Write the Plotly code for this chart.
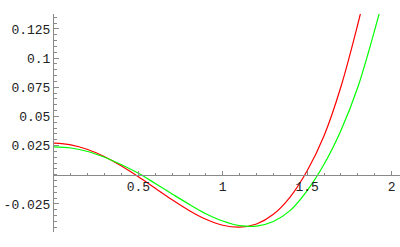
import plotly.graph_objects as go

# Red curve samples
red_x = [0.0, 0.1, 0.2, 0.3, 0.4, 0.5, 0.6, 0.7, 0.8, 0.9, 1.0, 1.1, 1.2, 1.3, 1.4, 1.5, 1.6, 1.7, 1.8, 1.83]
red_y = [0.0271, 0.0257, 0.0217, 0.0155, 0.0076, -0.0016, -0.0115, -0.0214, -0.0305, -0.0381, -0.0432, -0.0448, -0.0421, -0.0338, -0.0188, 0.0035, 0.0335, 0.0755, 0.1290, 0.1470]

# Green curve samples
green_x = [0.0, 0.1, 0.2, 0.3, 0.4, 0.5, 0.6, 0.7, 0.8, 0.9, 1.0, 1.1, 1.2, 1.3, 1.4, 1.5, 1.6, 1.7, 1.8, 1.9, 1.93]
green_y = [0.0240, 0.0230, 0.0200, 0.0150, 0.0086, 0.0013, -0.0074, -0.0164, -0.0252, -0.0333, -0.0396, -0.0435, -0.0439, -0.0400, -0.0305, -0.0135, 0.0090, 0.0380, 0.0750, 0.1240, 0.1400]

x_ticks = [0.5, 1, 1.5, 2]
x_tick_text = ["0.5", "1", "1.5", "2"]
y_ticks = [-0.025, 0.025, 0.05, 0.075, 0.1, 0.125]
y_tick_text = ["-0.025", "0.025", "0.05", "0.075", "0.1", "0.125"]

x_range = [0, 2.05]
y_range = [-0.049, 0.1378]

fig = go.Figure()
fig.add_trace(go.Scatter(x=red_x, y=red_y, mode="lines",
                         line=dict(color="#ff0000", width=1.2, shape="spline", smoothing=1.0),
                         showlegend=False, hoverinfo="skip"))
fig.add_trace(go.Scatter(x=green_x, y=green_y, mode="lines",
                         line=dict(color="#00ff00", width=1.2, shape="spline", smoothing=1.0),
                         showlegend=False, hoverinfo="skip"))

zero_pos = (0 - y_range[0]) / (y_range[1] - y_range[0])
font = dict(family="Liberation Mono", size=13, color="#222222")
axis_col = "#8a8a8a"

fig.update_layout(
    width=400, height=247,
    margin=dict(l=54, r=0, t=14, b=15),
    paper_bgcolor="white", plot_bgcolor="white",
    xaxis=dict(range=x_range, anchor="free", position=zero_pos, automargin=False,
               showgrid=False, zeroline=False, showline=True, linecolor=axis_col, linewidth=1,
               tickmode="array", tickvals=x_ticks, ticktext=x_tick_text,
               ticks="inside", ticklen=4, tickcolor=axis_col, tickfont=font,
               minor=dict(tickmode="linear", tick0=0, dtick=0.1, ticks="inside", ticklen=2, tickcolor=axis_col)),
    yaxis=dict(range=y_range, automargin=False, showgrid=False, zeroline=False, showline=True,
               linecolor=axis_col, linewidth=1,
               tickmode="array", tickvals=y_ticks, ticktext=y_tick_text,
               ticks="inside", ticklen=5, tickcolor=axis_col, tickfont=font,
               minor=dict(tickmode="linear", tick0=0, dtick=0.005, ticks="inside", ticklen=3, tickcolor=axis_col)),
)

fig.write_html("out.html", config={"displayModeBar": False},
               post_script="document.body.style.margin='0';document.body.style.overflow='hidden';")
